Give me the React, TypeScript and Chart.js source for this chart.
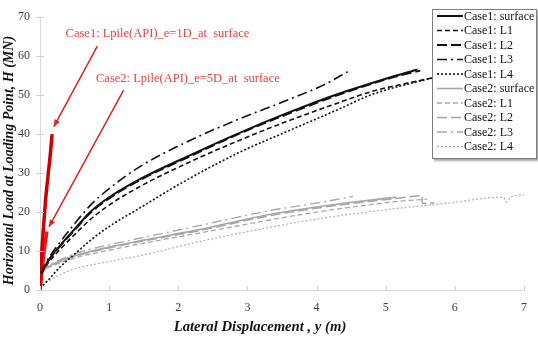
import { useEffect, useRef } from "react";
import { Chart, registerables } from "chart.js";

Chart.register(...registerables);

// Lateral displacement y (m) vs horizontal load H (MN)
const X_TICKS = [0, 1, 2, 3, 4, 5, 6, 7];
const Y_TICKS = [0, 10, 20, 30, 40, 50, 60, 70];

const case1Surface: [number, number][] = [
  [0.02, 4.3], [0.1, 7], [0.3, 11.6], [0.5, 15.6], [0.72, 19.9], [1.0, 23.8], [1.44, 28.4],
  [2.16, 34.5], [2.87, 40.2], [3.59, 45.5], [4.31, 50.3], [5.0, 54.2], [5.46, 56.6],
];
const case1L1: [number, number][] = [
  [0.02, 4.3], [0.1, 6.5], [0.3, 10.6], [0.5, 14.2], [0.72, 18], [1.0, 21.8], [1.44, 26.5],
  [2.16, 32.8], [2.87, 38.3], [3.59, 43.4], [4.31, 48], [4.79, 50.9], [5.56, 54], [6.2, 56.5],
];
const case1L2: [number, number][] = [
  [0.02, 4.3], [0.1, 7], [0.3, 11.4], [0.5, 15.3], [0.72, 19.6], [1.0, 23.5], [1.44, 28.1],
  [2.16, 34.2], [2.87, 40], [3.59, 45.2], [4.31, 50], [5.0, 54], [5.5, 56.3],
];
const case1L3: [number, number][] = [
  [0.02, 4.3], [0.1, 7.4], [0.3, 12.5], [0.5, 17], [0.72, 21.6], [1.0, 26], [1.44, 31.6],
  [2.16, 38.3], [2.87, 43.8], [3.59, 48.8], [4.1, 52.6], [4.45, 56],
];
const case1L4: [number, number][] = [
  [0, 0.5], [0.1, 2.2], [0.29, 5.9], [0.5, 9.2], [0.72, 12.6], [1.0, 16.3], [1.44, 21],
  [2.06, 27.6], [2.87, 35.2], [3.59, 40.8], [4.31, 46.3], [4.79, 50.1], [5.56, 53.9], [6.2, 56.3],
];

const case2Surface: [number, number][] = [
  [0.02, 4.3], [0.1, 5.8], [0.3, 7.5], [0.5, 8.8], [1.0, 11], [1.5, 12.8], [2.3, 15.5],
  [3.3, 19.3], [4.0, 21.3], [4.6, 22.7], [5.15, 23.8],
];
const case2L1: [number, number][] = [
  [0.02, 4.3], [0.1, 5.5], [0.3, 7], [0.5, 8.2], [1.0, 10.2], [1.5, 12], [2.3, 14.6],
  [3.3, 17.9], [4.0, 20], [4.6, 21.5], [5.2, 22.8], [5.6, 23.3],
];
const case2L2: [number, number][] = [
  [0.02, 4.3], [0.1, 5.7], [0.3, 7.3], [0.5, 8.6], [1.0, 10.8], [1.5, 12.6], [2.3, 15.2],
  [3.3, 19], [4.0, 21], [4.6, 22.4], [5.2, 23.6], [5.52, 24.2], [5.53, 22.2], [5.7, 22.4],
];
const case2L3: [number, number][] = [
  [0.02, 4.3], [0.1, 6], [0.3, 7.8], [0.5, 9.3], [1.0, 11.6], [1.5, 13.5], [2.3, 16.5],
  [3.3, 20.3], [4.0, 22.3], [4.53, 24],
];
const case2L4: [number, number][] = [
  [0, 0.4], [0.1, 2], [0.3, 4], [0.5, 5.4], [1.0, 7.3], [1.5, 9], [2.3, 12.4], [3.3, 16],
  [4.0, 18.2], [5.0, 20.6], [5.9, 22.3], [6.7, 23.8], [6.75, 22.6], [6.8, 23.8], [7.0, 24.4],
];

// LPILE (API) reference curves
const lpile1D: [number, number][] = [
  [0, 0], [0.02, 8], [0.05, 16], [0.08, 23], [0.12, 30], [0.15, 35], [0.175, 40],
];
const lpile5D: [number, number][] = [
  [0, 0], [0.03, 5], [0.06, 10], [0.1, 15],
];

const LEGEND_LABELS = [
  "Case1: surface", "Case1: L1", "Case1: L2", "Case1: L3", "Case1: L4",
  "Case2: surface", "Case2: L1", "Case2: L2", "Case2: L3", "Case2: L4",
];

const NOTES = [
  { text: "Case1: Lpile(API)_e=1D_at  surface", at: [0.37, 65.7], from: [0.83, 62.6], to: [0.2, 41.9] },
  { text: "Case2: Lpile(API)_e=5D_at  surface", at: [0.81, 54.3], from: [1.21, 51.3], to: [0.13, 16.2] },
];

const SERIF = '"Liberation Serif", "Times New Roman", serif';
const BLACK = "#111111";
const GREY = "#a6a6a6";

const toPts = (arr: [number, number][]) => arr.map(([x, y]) => ({ x, y }));

function series(label: string, data: [number, number][], color: string, dash: number[], width: number) {
  return {
    label,
    data: toPts(data),
    borderColor: color,
    backgroundColor: color,
    borderDash: dash,
    borderWidth: width,
    pointRadius: 0,
    showLine: true,
    fill: false,
    cubicInterpolationMode: "monotone" as const,
  };
}

const tickMarks = {
  id: "tickMarks",
  afterDraw(chart: any) {
    const { ctx, chartArea, scales } = chart;
    ctx.save();
    ctx.strokeStyle = "#d0d0d0";
    ctx.lineWidth = 1;
    for (const v of Y_TICKS) {
      const y = Math.round(scales.y.getPixelForValue(v)) + 0.5;
      ctx.beginPath();
      ctx.moveTo(chartArea.left - 4, y);
      ctx.lineTo(chartArea.left + 4, y);
      ctx.stroke();
    }
    for (const v of X_TICKS) {
      const x = Math.round(scales.x.getPixelForValue(v)) + 0.5;
      ctx.beginPath();
      ctx.moveTo(x, chartArea.bottom - 4);
      ctx.lineTo(x, chartArea.bottom);
      ctx.stroke();
    }
    ctx.restore();
  },
};

const notesPlugin = {
  id: "notes",
  afterDatasetsDraw(chart: any) {
    const { ctx, scales } = chart;
    const px = (p: number[]) => [scales.x.getPixelForValue(p[0]), scales.y.getPixelForValue(p[1])];
    ctx.save();
    for (const n of NOTES) {
      const [tx, ty] = px(n.at);
      ctx.fillStyle = "#e5403f";
      ctx.font = `12.5px ${SERIF}`;
      ctx.textAlign = "left";
      ctx.textBaseline = "middle";
      ctx.fillText(n.text, tx, ty);
      const [x1, y1] = px(n.from);
      const [x2, y2] = px(n.to);
      ctx.strokeStyle = "#e02020";
      ctx.fillStyle = "#e02020";
      ctx.lineWidth = 1.5;
      ctx.beginPath();
      ctx.moveTo(x1, y1);
      ctx.lineTo(x2, y2);
      ctx.stroke();
      const ang = Math.atan2(y2 - y1, x2 - x1);
      const L = 7, W = 3;
      ctx.beginPath();
      ctx.moveTo(x2, y2);
      ctx.lineTo(x2 - L * Math.cos(ang) + W * Math.sin(ang), y2 - L * Math.sin(ang) - W * Math.cos(ang));
      ctx.lineTo(x2 - L * Math.cos(ang) - W * Math.sin(ang), y2 - L * Math.sin(ang) + W * Math.cos(ang));
      ctx.closePath();
      ctx.fill();
    }
    ctx.restore();
  },
};

const boxLegend = {
  id: "boxLegend",
  afterDraw(chart: any) {
    const { ctx, width } = chart;
    const sets = chart.data.datasets.filter((d: any) => LEGEND_LABELS.includes(d.label));
    const left = width - 106;
    const top = 9;
    const w = 105;
    const rowH = 14.5;
    const h = sets.length * rowH + 5;
    ctx.save();
    ctx.shadowColor = "rgba(0,0,0,0.35)";
    ctx.shadowOffsetX = 2;
    ctx.shadowOffsetY = 2;
    ctx.shadowBlur = 2;
    ctx.fillStyle = "#ffffff";
    ctx.fillRect(left, top, w, h);
    ctx.shadowColor = "transparent";
    ctx.strokeStyle = "#7f7f7f";
    ctx.lineWidth = 1;
    ctx.strokeRect(left + 0.5, top + 0.5, w - 1, h - 1);
    sets.forEach((d: any, i: number) => {
      const y = top + 7 + i * rowH;
      ctx.strokeStyle = d.borderColor;
      ctx.lineWidth = d.borderWidth;
      ctx.setLineDash(d.borderDash || []);
      ctx.beginPath();
      ctx.moveTo(left + 5, y);
      ctx.lineTo(left + 31, y);
      ctx.stroke();
      ctx.setLineDash([]);
      ctx.fillStyle = "#111111";
      ctx.font = `12px ${SERIF}`;
      ctx.textAlign = "left";
      ctx.textBaseline = "middle";
      ctx.fillText(d.label, left + 32, y + 0.5);
    });
    ctx.restore();
  },
};

const axisTitles = {
  id: "axisTitles",
  afterDraw(chart: any) {
    const { ctx, chartArea } = chart;
    ctx.save();
    ctx.fillStyle = "#111111";
    ctx.font = `bold italic 14.7px ${SERIF}`;
    ctx.textAlign = "center";
    ctx.textBaseline = "middle";
    ctx.fillText("Lateral Displacement , y (m)", (chartArea.left + chartArea.right) / 2 - 22, chartArea.bottom + 37);
    ctx.translate(9, (chartArea.top + chartArea.bottom) / 2 + 7);
    ctx.rotate(-Math.PI / 2);
    ctx.font = `bold italic 14px ${SERIF}`;
    ctx.fillText("Horizontal Load at Loading Point, H (MN)", 0, 0);
    ctx.restore();
  },
};

export default function App() {
  const ref = useRef<HTMLCanvasElement | null>(null);

  useEffect(() => {
    if (!ref.current) return;
    const chart = new Chart(ref.current, {
      type: "scatter",
      data: {
        datasets: [
          series("Case1: surface", case1Surface, BLACK, [], 2),
          series("Case1: L1", case1L1, BLACK, [5, 3], 1.6),
          series("Case1: L2", case1L2, BLACK, [10, 4], 1.8),
          series("Case1: L3", case1L3, BLACK, [10, 4, 2, 4], 1.6),
          series("Case1: L4", case1L4, BLACK, [2, 2], 1.6),
          series("Case2: surface", case2Surface, GREY, [], 1.6),
          series("Case2: L1", case2L1, GREY, [5, 3], 1.3),
          series("Case2: L2", case2L2, GREY, [10, 4], 1.5),
          series("Case2: L3", case2L3, GREY, [10, 4, 2, 4], 1.3),
          series("Case2: L4", case2L4, "#b4b4b4", [2, 2], 1.3),
          series("Lpile(API)_e=1D", lpile1D, "#cc0000", [], 3.5),
          series("Lpile(API)_e=5D", lpile5D, "#ff1010", [], 3.5),
        ],
      },
      options: {
        animation: false,
        responsive: false,
        devicePixelRatio: 1,
        layout: { padding: { top: 13, right: 11, left: 0, bottom: 0 } },
        plugins: { legend: { display: false }, tooltip: { enabled: false } },
        scales: {
          x: {
            type: "linear",
            min: 0,
            max: 7,
            afterFit: (s: any) => { s.height = 52; },
            afterBuildTicks: (s: any) => { s.ticks = X_TICKS.map((v) => ({ value: v })); },
            grid: { display: false, drawTicks: false },
            border: { display: true, color: "#d9d9d9", width: 1 },
            ticks: { padding: 11, color: "#404040", font: { family: SERIF, size: 12 } },
          },
          y: {
            type: "linear",
            min: 0,
            max: 70,
            afterFit: (s: any) => { s.width = 40; },
            afterBuildTicks: (s: any) => { s.ticks = Y_TICKS.map((v) => ({ value: v })); },
            grid: { display: false, drawTicks: false },
            border: { display: true, color: "#d9d9d9", width: 1 },
            ticks: { padding: 10, color: "#404040", font: { family: SERIF, size: 12 } },
          },
        },
      },
      plugins: [tickMarks, notesPlugin, boxLegend, axisTitles],
    });
    return () => chart.destroy();
  }, []);

  return (
    <div style={{ position: "fixed", left: 0, top: 0, width: 538, height: 342, background: "#fff" }}>
      <canvas ref={ref} width={538} height={342} />
    </div>
  );
}
